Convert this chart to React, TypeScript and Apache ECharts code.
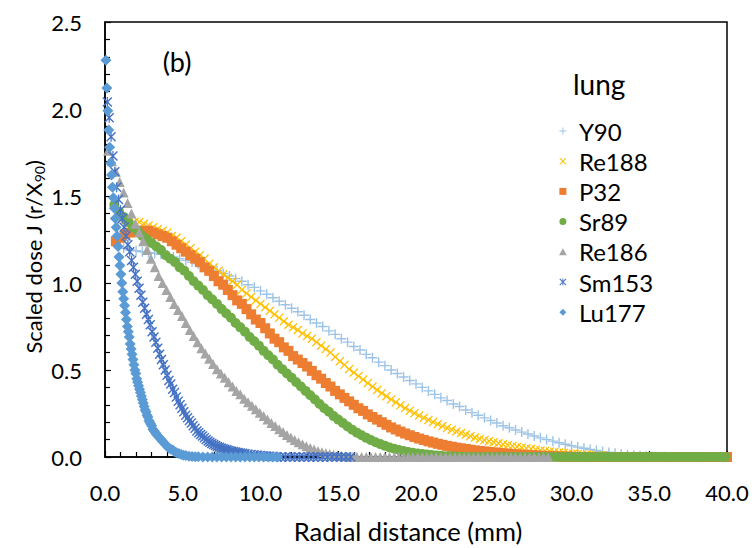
import { useEffect, useRef } from "react";
import * as echarts from "echarts";

// Scaled dose J(r/X90) in lung versus radial distance (mm), one list per nuclide.
const seriesNames = ["Y90", "Re188", "P32", "Sr89", "Re186", "Sm153", "Lu177"];

const y90: [number, number][] = [
  [1.2, 1.2], [1.6, 1.19], [2.0, 1.185], [2.4, 1.18], [2.8, 1.175], [3.2, 1.17], [3.6, 1.165], [4.0, 1.16],
  [4.4, 1.15], [4.8, 1.14], [5.2, 1.13], [5.6, 1.12], [6.0, 1.11], [6.4, 1.1], [6.8, 1.085], [7.2, 1.07],
  [7.6, 1.055], [8.0, 1.04], [8.4, 1.025], [8.8, 1.01], [9.2, 0.99], [9.6, 0.975], [10.0, 0.955], [10.4, 0.935],
  [10.8, 0.915], [11.2, 0.895], [11.6, 0.875], [12.0, 0.855], [12.4, 0.835], [12.8, 0.815], [13.2, 0.79], [13.6, 0.77],
  [14.0, 0.75], [14.4, 0.725], [14.8, 0.705], [15.2, 0.68], [15.6, 0.66], [16.0, 0.635], [16.4, 0.615], [16.8, 0.59],
  [17.2, 0.57], [17.6, 0.545], [18.0, 0.525], [18.4, 0.5], [18.8, 0.48], [19.2, 0.46], [19.6, 0.44], [20.0, 0.42],
  [20.4, 0.4], [20.8, 0.38], [21.2, 0.36], [21.6, 0.34], [22.0, 0.325], [22.4, 0.305], [22.8, 0.29], [23.2, 0.27],
  [23.6, 0.255], [24.0, 0.24], [24.4, 0.225], [24.8, 0.21], [25.2, 0.195], [25.6, 0.18], [26.0, 0.168], [26.4, 0.155],
  [26.8, 0.143], [27.2, 0.132], [27.6, 0.121], [28.0, 0.11], [28.4, 0.1], [28.8, 0.091], [29.2, 0.082], [29.6, 0.073],
  [30.0, 0.065], [30.4, 0.057], [30.8, 0.05], [31.2, 0.043], [31.6, 0.037], [32.0, 0.031], [32.4, 0.026], [32.8, 0.021],
  [33.2, 0.017], [33.6, 0.013], [34.0, 0.01], [34.4, 0.007], [34.8, 0.005], [35.2, 0.003], [35.6, 0.002], [36.0, 0.001],
  [36.4, 0], [36.8, 0], [37.2, 0], [37.6, 0], [38.0, 0], [38.4, 0], [38.8, 0], [39.2, 0], [39.6, 0], [40.0, 0],
];

const re188: [number, number][] = [
  [1.0, 1.36], [1.3, 1.36], [1.6, 1.36], [1.9, 1.35], [2.2, 1.35], [2.5, 1.34], [2.8, 1.33], [3.1, 1.32],
  [3.4, 1.31], [3.7, 1.3], [4.0, 1.29], [4.3, 1.27], [4.6, 1.26], [4.9, 1.24], [5.2, 1.22], [5.5, 1.2],
  [5.8, 1.18], [6.1, 1.16], [6.4, 1.14], [6.7, 1.11], [7.0, 1.09], [7.3, 1.07], [7.6, 1.05], [7.9, 1.03],
  [8.2, 1.01], [8.5, 0.99], [8.8, 0.96], [9.1, 0.94], [9.4, 0.92], [9.7, 0.9], [10.0, 0.88], [10.3, 0.86],
  [10.6, 0.84], [10.9, 0.82], [11.2, 0.8], [11.5, 0.78], [11.8, 0.76], [12.1, 0.745], [12.4, 0.73], [12.7, 0.71],
  [13.0, 0.695], [13.3, 0.68], [13.6, 0.66], [13.9, 0.64], [14.2, 0.62], [14.5, 0.6], [14.8, 0.575], [15.1, 0.55],
  [15.4, 0.53], [15.7, 0.505], [16.0, 0.485], [16.3, 0.465], [16.6, 0.445], [16.9, 0.425], [17.2, 0.405], [17.5, 0.385],
  [17.8, 0.367], [18.1, 0.349], [18.4, 0.331], [18.7, 0.314], [19.0, 0.297], [19.3, 0.281], [19.6, 0.266], [19.9, 0.252],
  [20.2, 0.238], [20.5, 0.225], [20.8, 0.213], [21.1, 0.201], [21.4, 0.189], [21.7, 0.178], [22.0, 0.167], [22.3, 0.157],
  [22.6, 0.147], [22.9, 0.138], [23.2, 0.129], [23.5, 0.12], [23.8, 0.112], [24.1, 0.104], [24.4, 0.097], [24.7, 0.091],
  [25.0, 0.085], [25.3, 0.079], [25.6, 0.073], [25.9, 0.068], [26.2, 0.063], [26.5, 0.058], [26.8, 0.054], [27.1, 0.05],
  [27.4, 0.046], [27.7, 0.042], [28.0, 0.038], [28.3, 0.035], [28.6, 0.032], [28.9, 0.029], [29.2, 0.026], [29.5, 0.024],
  [29.8, 0.021], [30.1, 0.019], [30.4, 0.017], [30.7, 0.015], [31.0, 0.013], [31.3, 0.011], [31.6, 0.01], [31.9, 0.008],
  [32.2, 0.007], [32.5, 0.006], [32.8, 0.005], [33.1, 0.004], [33.4, 0.003], [33.7, 0.002], [34.0, 0.001],
  [34.3, 0], [34.6, 0], [34.9, 0], [35.2, 0], [35.5, 0], [35.8, 0], [36.1, 0], [36.4, 0], [36.7, 0], [37.0, 0],
  [37.3, 0], [37.6, 0], [37.9, 0], [38.2, 0], [38.5, 0], [38.8, 0], [39.1, 0], [39.4, 0], [39.7, 0], [40.0, 0],
];

const p32: [number, number][] = [
  [0.7, 1.24], [1.0, 1.26], [1.3, 1.28], [1.6, 1.29], [1.9, 1.3], [2.2, 1.3], [2.5, 1.3], [2.8, 1.3],
  [3.1, 1.29], [3.4, 1.28], [3.7, 1.27], [4.0, 1.26], [4.3, 1.24], [4.6, 1.22], [4.9, 1.2], [5.2, 1.18],
  [5.5, 1.16], [5.8, 1.14], [6.1, 1.12], [6.4, 1.09], [6.7, 1.07], [7.0, 1.04], [7.3, 1.01], [7.6, 0.99],
  [7.9, 0.96], [8.2, 0.93], [8.5, 0.9], [8.8, 0.88], [9.1, 0.85], [9.4, 0.82], [9.7, 0.79], [10.0, 0.77],
  [10.3, 0.74], [10.6, 0.71], [10.9, 0.68], [11.2, 0.66], [11.5, 0.63], [11.8, 0.61], [12.1, 0.58], [12.4, 0.56],
  [12.7, 0.54], [13.0, 0.52], [13.3, 0.495], [13.6, 0.47], [13.9, 0.45], [14.2, 0.425], [14.5, 0.405], [14.8, 0.38],
  [15.1, 0.36], [15.4, 0.34], [15.7, 0.32], [16.0, 0.3], [16.3, 0.28], [16.6, 0.265], [16.9, 0.245], [17.2, 0.23],
  [17.5, 0.215], [17.8, 0.2], [18.1, 0.185], [18.4, 0.17], [18.7, 0.158], [19.0, 0.146], [19.3, 0.135], [19.6, 0.125],
  [19.9, 0.115], [20.2, 0.106], [20.5, 0.098], [20.8, 0.09], [21.1, 0.083], [21.4, 0.076], [21.7, 0.07], [22.0, 0.064],
  [22.3, 0.059], [22.6, 0.054], [22.9, 0.05], [23.2, 0.046], [23.5, 0.042], [23.8, 0.038], [24.1, 0.035], [24.4, 0.032],
  [24.7, 0.029], [25.0, 0.026], [25.3, 0.024], [25.6, 0.021], [25.9, 0.019], [26.2, 0.017], [26.5, 0.015], [26.8, 0.013],
  [27.1, 0.012], [27.4, 0.01], [27.7, 0.009], [28.0, 0.008], [28.3, 0.006], [28.6, 0.005], [28.9, 0.004], [29.2, 0.003],
  [29.5, 0.002], [29.8, 0.002], [30.1, 0.001],
  [30.4, 0], [30.7, 0], [31.0, 0], [31.3, 0], [31.6, 0], [31.9, 0], [32.2, 0], [32.5, 0], [32.8, 0], [33.1, 0],
  [33.4, 0], [33.7, 0], [34.0, 0], [34.3, 0], [34.6, 0], [34.9, 0], [35.2, 0], [35.5, 0], [35.8, 0], [36.1, 0],
  [36.4, 0], [36.7, 0], [37.0, 0], [37.3, 0], [37.6, 0], [37.9, 0], [38.2, 0], [38.5, 0], [38.8, 0], [39.1, 0],
  [39.4, 0], [39.7, 0], [40.0, 0],
];

const sr89: [number, number][] = [
  [0.6, 1.45], [0.9, 1.41], [1.2, 1.38], [1.5, 1.35], [1.8, 1.32], [2.1, 1.3], [2.4, 1.27], [2.7, 1.25],
  [3.0, 1.23], [3.3, 1.21], [3.6, 1.19], [3.9, 1.16], [4.2, 1.14], [4.5, 1.12], [4.8, 1.09], [5.1, 1.07],
  [5.4, 1.04], [5.7, 1.01], [6.0, 0.985], [6.3, 0.96], [6.6, 0.93], [6.9, 0.905], [7.2, 0.88], [7.5, 0.85],
  [7.8, 0.825], [8.1, 0.8], [8.4, 0.77], [8.7, 0.745], [9.0, 0.72], [9.3, 0.69], [9.6, 0.665], [9.9, 0.64],
  [10.2, 0.61], [10.5, 0.585], [10.8, 0.56], [11.1, 0.53], [11.4, 0.505], [11.7, 0.48], [12.0, 0.455], [12.3, 0.43],
  [12.6, 0.405], [12.9, 0.38], [13.2, 0.355], [13.5, 0.33], [13.8, 0.305], [14.1, 0.28], [14.4, 0.26], [14.7, 0.235],
  [15.0, 0.215], [15.3, 0.195], [15.6, 0.175], [15.9, 0.157], [16.2, 0.14], [16.5, 0.125], [16.8, 0.11], [17.1, 0.097],
  [17.4, 0.085], [17.7, 0.074], [18.0, 0.064], [18.3, 0.055], [18.6, 0.047], [18.9, 0.04], [19.2, 0.034], [19.5, 0.029],
  [19.8, 0.024], [20.1, 0.02], [20.4, 0.017], [20.7, 0.014], [21.0, 0.011], [21.3, 0.009], [21.6, 0.007], [21.9, 0.005],
  [22.2, 0.004], [22.5, 0.003], [22.8, 0.002], [23.1, 0.001],
  [23.4, 0], [23.7, 0], [24.0, 0], [24.3, 0], [24.6, 0], [24.9, 0], [25.2, 0], [25.5, 0], [25.8, 0], [26.1, 0],
  [26.4, 0], [26.7, 0], [27.0, 0], [27.3, 0], [27.6, 0], [27.9, 0], [28.2, 0], [28.5, 0], [28.8, 0], [29.1, 0],
  [29.4, 0], [29.7, 0], [30.0, 0], [30.3, 0], [30.6, 0], [30.9, 0], [31.2, 0], [31.5, 0], [31.8, 0], [32.1, 0],
  [32.4, 0], [32.7, 0], [33.0, 0], [33.3, 0], [33.6, 0], [33.9, 0], [34.2, 0], [34.5, 0], [34.8, 0], [35.1, 0],
  [35.4, 0], [35.7, 0], [36.0, 0], [36.3, 0], [36.6, 0], [36.9, 0], [37.2, 0], [37.5, 0], [37.8, 0], [38.1, 0],
  [38.4, 0], [38.7, 0], [39.0, 0], [39.3, 0], [39.6, 0], [39.9, 0],
];

const re186: [number, number][] = [
  [0.2, 1.76], [0.45, 1.7], [0.7, 1.64], [0.95, 1.58], [1.2, 1.52], [1.45, 1.46], [1.7, 1.4], [1.95, 1.34],
  [2.2, 1.29], [2.45, 1.24], [2.7, 1.19], [2.95, 1.14], [3.2, 1.09], [3.45, 1.04], [3.7, 1.0], [3.95, 0.96],
  [4.2, 0.92], [4.45, 0.88], [4.7, 0.845], [4.95, 0.81], [5.2, 0.77], [5.45, 0.73], [5.7, 0.695], [5.95, 0.66],
  [6.2, 0.625], [6.45, 0.595], [6.7, 0.565], [6.95, 0.535], [7.2, 0.505], [7.45, 0.48], [7.7, 0.455], [7.95, 0.43],
  [8.2, 0.405], [8.45, 0.38], [8.7, 0.36], [8.95, 0.335], [9.2, 0.315], [9.45, 0.295], [9.7, 0.275], [9.95, 0.255],
  [10.2, 0.235], [10.45, 0.215], [10.7, 0.195], [10.95, 0.178], [11.2, 0.16], [11.45, 0.143], [11.7, 0.127], [11.95, 0.112],
  [12.2, 0.098], [12.45, 0.085], [12.7, 0.073], [12.95, 0.062], [13.2, 0.052], [13.45, 0.043], [13.7, 0.035], [13.95, 0.028],
  [14.2, 0.022], [14.45, 0.017], [14.7, 0.013], [14.95, 0.01], [15.2, 0.007], [15.45, 0.005], [15.7, 0.003], [15.95, 0.002],
  [16.2, 0.001],
  [16.5, 0], [16.8, 0], [17.1, 0], [17.4, 0], [17.7, 0], [18.0, 0], [18.3, 0], [18.6, 0], [18.9, 0], [19.2, 0],
  [19.5, 0], [19.8, 0], [20.1, 0], [20.4, 0], [20.7, 0], [21.0, 0], [21.3, 0], [21.6, 0], [21.9, 0], [22.2, 0],
  [22.5, 0], [22.8, 0], [23.1, 0], [23.4, 0], [23.7, 0], [24.0, 0], [24.3, 0], [24.6, 0], [24.9, 0], [25.2, 0],
  [25.5, 0], [25.8, 0], [26.1, 0], [26.4, 0], [26.7, 0], [27.0, 0], [27.3, 0], [27.6, 0], [27.9, 0], [28.2, 0],
  [28.5, 0],
];

const sm153: [number, number][] = [
  [0.15, 2.04], [0.27, 1.95], [0.39, 1.84], [0.51, 1.73], [0.63, 1.64], [0.75, 1.55], [0.87, 1.48], [0.99, 1.42],
  [1.11, 1.37], [1.23, 1.32], [1.35, 1.27], [1.47, 1.22], [1.59, 1.18], [1.71, 1.13], [1.83, 1.09], [1.95, 1.05],
  [2.07, 1.01], [2.19, 0.97], [2.31, 0.93], [2.43, 0.89], [2.55, 0.855], [2.67, 0.82], [2.79, 0.79], [2.91, 0.76],
  [3.03, 0.72], [3.15, 0.69], [3.27, 0.66], [3.39, 0.625], [3.51, 0.59], [3.63, 0.56], [3.75, 0.53], [3.87, 0.5],
  [3.99, 0.47], [4.11, 0.44], [4.23, 0.42], [4.35, 0.39], [4.47, 0.37], [4.59, 0.345], [4.71, 0.32], [4.83, 0.3],
  [4.95, 0.28], [5.07, 0.26], [5.19, 0.24], [5.31, 0.225], [5.43, 0.21], [5.55, 0.195], [5.67, 0.18], [5.79, 0.165],
  [5.91, 0.15], [6.03, 0.14], [6.15, 0.13], [6.27, 0.12], [6.39, 0.11], [6.51, 0.1], [6.63, 0.092], [6.75, 0.085],
  [6.87, 0.078], [6.99, 0.072], [7.11, 0.066], [7.23, 0.061], [7.35, 0.056], [7.47, 0.052], [7.59, 0.048], [7.71, 0.044],
  [7.83, 0.041], [7.95, 0.038], [8.1, 0.035], [8.25, 0.032], [8.4, 0.029], [8.55, 0.026], [8.7, 0.023], [8.85, 0.021],
  [9.0, 0.019], [9.2, 0.016], [9.4, 0.014], [9.6, 0.012], [9.8, 0.01], [10.0, 0.008], [10.2, 0.006], [10.4, 0.005],
  [10.6, 0.004], [10.8, 0.003], [11.0, 0.002],
  [11.3, 0], [11.6, 0], [11.9, 0], [12.2, 0], [12.5, 0], [12.8, 0], [13.1, 0], [13.4, 0], [13.7, 0], [14.0, 0],
  [14.3, 0], [14.6, 0], [14.9, 0], [15.2, 0], [15.5, 0], [15.8, 0],
];

const lu177: [number, number][] = [
  [0.06, 2.28], [0.12, 2.12], [0.18, 1.99], [0.24, 1.88], [0.3, 1.78], [0.36, 1.69], [0.42, 1.62], [0.48, 1.55],
  [0.54, 1.49], [0.6, 1.43], [0.66, 1.37], [0.72, 1.32], [0.78, 1.27], [0.84, 1.21], [0.9, 1.15], [0.96, 1.1],
  [1.02, 1.05], [1.08, 1.0], [1.14, 0.95], [1.2, 0.91], [1.26, 0.87], [1.32, 0.83], [1.38, 0.79], [1.44, 0.75],
  [1.5, 0.72], [1.56, 0.69], [1.62, 0.65], [1.68, 0.62], [1.74, 0.59], [1.8, 0.56], [1.86, 0.53], [1.92, 0.5],
  [1.98, 0.48], [2.04, 0.45], [2.1, 0.43], [2.16, 0.41], [2.22, 0.39], [2.28, 0.37], [2.34, 0.35], [2.4, 0.33],
  [2.46, 0.31], [2.52, 0.29], [2.58, 0.27], [2.64, 0.26], [2.7, 0.24], [2.76, 0.23], [2.82, 0.21], [2.88, 0.2],
  [2.94, 0.19], [3.0, 0.18], [3.08, 0.16], [3.16, 0.15], [3.24, 0.14], [3.32, 0.13], [3.4, 0.12], [3.5, 0.11],
  [3.6, 0.1], [3.7, 0.09], [3.8, 0.08], [3.9, 0.07], [4.0, 0.06], [4.12, 0.05], [4.24, 0.045], [4.36, 0.04],
  [4.48, 0.03], [4.6, 0.025], [4.75, 0.02], [4.9, 0.015], [5.05, 0.01], [5.2, 0.008], [5.4, 0.005], [5.6, 0.003],
  [5.8, 0.002], [6.0, 0.001],
  [6.3, 0], [6.6, 0], [6.9, 0], [7.2, 0], [7.5, 0], [7.8, 0], [8.1, 0], [8.4, 0], [8.7, 0], [9.0, 0],
  [9.3, 0], [9.6, 0], [9.9, 0], [10.2, 0], [10.5, 0], [10.8, 0], [11.1, 0],
];

const seriesData = [y90, re188, p32, sr89, re186, sm153, lu177];
const seriesColors = ["#9DC3E6", "#FFC000", "#ED7D31", "#70AD47", "#A5A5A5", "#4472C4", "#5B9BD5"];

// Marker outlines (10x10 boxes).
const PLUS = "path://M4.3,0H5.7V4.3H10V5.7H5.7V10H4.3V5.7H0V4.3H4.3Z";
const CROSS = "path://M0,1L1,0L5,4L9,0L10,1L6,5L10,9L9,10L5,6L1,10L0,9L4,5Z";
const STAR = "path://M0,1L1,0L5,4L9,0L10,1L6,5L10,9L9,10L5,6L1,10L0,9L4,5Z M4.4,0H5.6V10H4.4Z";
const SQUARE = "path://M0,0H10V10H0Z";
const CIRCLE = "path://M0,5A5,5,0,1,1,10,5A5,5,0,1,1,0,5Z";
const TRIANGLE = "path://M5,0L10,9H0Z";
const DIAMOND = "path://M5,0L10,5L5,10L0,5Z";
const seriesSymbols = [PLUS, CROSS, SQUARE, CIRCLE, TRIANGLE, STAR, DIAMOND];
const seriesSymbolSizes = [10, 9, 10, 10, 10, 10, 11];

const FONT = "Lato, 'Noto Sans', sans-serif";

export default function App() {
  const ref = useRef<HTMLDivElement>(null);

  useEffect(() => {
    if (!ref.current) return;
    const chart = echarts.init(ref.current, null, { renderer: "svg" });
    const axisCommon = {
      axisLine: { show: true, onZero: false, lineStyle: { color: "#000", width: 1.5 } },
      axisTick: { show: true, inside: true, length: 6, lineStyle: { color: "#000", width: 1.2 } },
      minorTick: { show: true, splitNumber: 5, length: 5, lineStyle: { color: "#000", width: 1.2 } },
      splitLine: { show: false },
      axisLabel: {
        color: "#000",
        fontFamily: FONT,
        fontSize: 22,
        formatter: (v: number) => v.toFixed(1),
      },
    };
    chart.setOption({
      animation: false,
      backgroundColor: "#fff",
      grid: {
        left: 105,
        right: 27,
        top: 22,
        bottom: 91,
        show: true,
        borderColor: "#000",
        borderWidth: 1.5,
        backgroundColor: "transparent",
      },
      xAxis: {
        type: "value",
        min: 0,
        max: 40,
        interval: 5,
        ...axisCommon,
        axisLabel: { ...axisCommon.axisLabel, margin: 24 },
      },
      yAxis: {
        type: "value",
        min: 0,
        max: 2.5,
        interval: 0.5,
        ...axisCommon,
        axisLabel: { ...axisCommon.axisLabel, margin: 23 },
      },
      legend: {
        orient: "vertical",
        left: 559,
        top: 118,
        padding: 0,
        itemWidth: 22,
        itemHeight: 7,
        itemGap: 4.2,
        selectedMode: false,
        textStyle: { fontFamily: FONT, fontSize: 24, lineHeight: 26, color: "#000" },
        data: seriesNames.map((name, i) => ({ name, icon: seriesSymbols[i] })),
      },
      graphic: [
        {
          type: "text",
          x: 177,
          y: 61,
          style: { text: "(b)", font: `27px ${FONT}`, fill: "#000", align: "center", verticalAlign: "middle" },
        },
        {
          type: "text",
          x: 573,
          y: 84,
          style: { text: "lung", font: `28px ${FONT}`, fill: "#000", align: "left", verticalAlign: "middle" },
        },
        {
          type: "text",
          x: 408,
          y: 531,
          style: {
            text: "Radial distance (mm)",
            font: `25.5px ${FONT}`,
            fill: "#000",
            align: "center",
            verticalAlign: "middle",
          },
        },
        {
          type: "text",
          x: 33,
          y: 257,
          rotation: Math.PI / 2,
          style: {
            text: "Scaled dose J (r/X{sub|90})",
            font: `22px ${FONT}`,
            fill: "#000",
            align: "center",
            verticalAlign: "middle",
            rich: {
              sub: { fontFamily: FONT, fontSize: 14, verticalAlign: "bottom", lineHeight: 26, fill: "#000" },
            },
          },
        },
      ],
      series: seriesNames.map((name, i) => ({
        name,
        type: "scatter",
        data: seriesData[i],
        symbol: seriesSymbols[i],
        symbolSize: seriesSymbolSizes[i],
        itemStyle: { color: seriesColors[i], opacity: 1 },
        emphasis: { disabled: true },
      })),
    });
    return () => chart.dispose();
  }, []);

  return (
    <div
      ref={ref}
      style={{ position: "fixed", left: 0, top: 0, width: 754, height: 548, background: "#fff" }}
    />
  );
}
